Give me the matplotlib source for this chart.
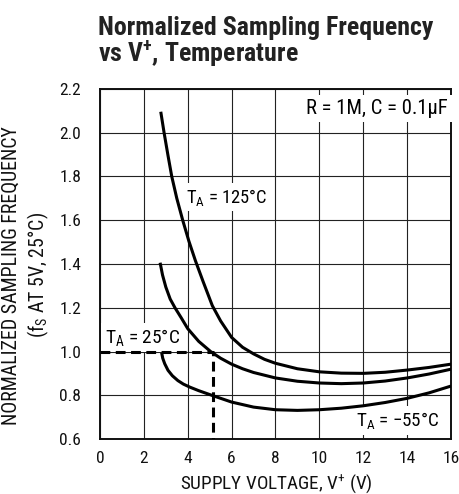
import matplotlib
matplotlib.use("Agg")
import matplotlib.pyplot as plt
from matplotlib import font_manager as fm

# pick a condensed family if one is installed
_names = {f.name for f in fm.fontManager.ttflist}
_cands = ['Liberation Sans Narrow', 'Roboto Condensed', 'DejaVu Sans Condensed',
          'Open Sans Condensed', 'Noto Sans Condensed', 'Arial Narrow']
_cond = [c for c in _cands if c in _names]
FAM = [_cond[0], 'DejaVu Sans'] if _cond else ['Roboto', 'DejaVu Sans']

plt.rcParams['font.family'] = FAM
plt.rcParams['mathtext.fontset'] = 'custom'
plt.rcParams['mathtext.rm'] = FAM[0]
plt.rcParams['mathtext.it'] = FAM[0]
plt.rcParams['mathtext.default'] = 'regular'

# ---- data ----
v_125 = [2.77, 2.92, 3.1, 3.27, 3.5, 3.77, 4.05, 4.35, 4.7, 5.12, 5.5, 6.0, 6.5, 7.0,
         7.5, 8.0, 9.0, 10.0, 11.0, 12.0, 13.0, 14.0, 15.0, 16.0]
f_125 = [2.095, 2.0, 1.895, 1.8, 1.70, 1.6, 1.505, 1.415, 1.32, 1.21, 1.14, 1.065, 1.02,
         0.99, 0.965, 0.947, 0.922, 0.908, 0.902, 0.901, 0.906, 0.916, 0.928, 0.943]

v_25 = [2.74, 2.85, 3.0, 3.2, 3.42, 3.7, 4.0, 4.5, 5.05, 5.5, 6.0, 6.5, 7.0, 8.0, 9.0,
        10.0, 11.0, 12.0, 13.0, 14.0, 15.0, 16.0]
f_25 = [1.406, 1.35, 1.295, 1.24, 1.2, 1.155, 1.105, 1.047, 1.0, 0.97, 0.943, 0.922,
        0.905, 0.88, 0.865, 0.857, 0.854, 0.857, 0.866, 0.88, 0.898, 0.92]

v_m55 = [2.81, 2.86, 2.95, 3.1, 3.3, 3.55, 3.8, 4.1, 4.5, 5.15, 6.0, 7.0, 8.0, 9.0, 10.0,
         11.0, 12.0, 13.0, 14.0, 15.0, 16.0]
f_m55 = [0.995, 0.97, 0.945, 0.915, 0.89, 0.868, 0.852, 0.838, 0.822, 0.799, 0.77, 0.747,
         0.735, 0.732, 0.735, 0.742, 0.753, 0.768, 0.787, 0.812, 0.843]

ref_v = [0.0, 5.15, 5.15]
ref_f = [1.0, 1.0, 0.6]

x_ticks = [0, 2, 4, 6, 8, 10, 12, 14, 16]
y_ticks = [0.6, 0.8, 1.0, 1.2, 1.4, 1.6, 1.8, 2.0, 2.2]
y_tick_labels = ['0.6', '0.8', '1.0', '1.2', '1.4', '1.6', '1.8', '2.0', '2.2']

fig = plt.figure(figsize=(4.6, 4.94), dpi=100)
ax = fig.add_axes([0.2174, 0.1107, 0.7630, 0.7097])

ax.set_xlim(0, 16)
ax.set_ylim(0.6, 2.2)
ax.set_xticks(x_ticks)
ax.set_yticks(y_ticks)
ax.set_yticklabels(y_tick_labels)
ax.tick_params(axis='both', length=0, labelsize=12.5, colors='#111111')
ax.tick_params(axis='x', pad=8.5)
ax.tick_params(axis='y', pad=13.5)
ax.grid(True, color='#222222', linewidth=0.8, zorder=1)
ax.set_axisbelow(True)
for s in ax.spines.values():
    s.set_linewidth(1.4)
    s.set_color('#111111')

lw = 2.2
ax.plot(v_125, f_125, color='black', lw=lw, zorder=4, solid_capstyle='butt')
ax.plot(v_25, f_25, color='black', lw=lw, zorder=4, solid_capstyle='butt')
ax.plot(v_m55, f_m55, color='black', lw=lw, zorder=4, solid_capstyle='butt')
ax.plot(ref_v, ref_f, color='black', lw=2.2, dashes=(3.2, 1.8), zorder=4)

box = dict(boxstyle='square,pad=0.2', facecolor='white', edgecolor='none')
fs = 13
t1 = ax.text(3.9, 1.705, 'T$_{A}$ = 125°C', fontsize=fs, ha='left', va='center', bbox=box, zorder=3)
t2 = ax.text(15.85, 2.11, 'R = 1M, C = 0.1µF', fontsize=fs, ha='right', va='center', bbox=box, zorder=3)
t3 = ax.text(0.22, 1.065, 'T$_{A}$ = 25°C', fontsize=fs, ha='left', va='center', bbox=box, zorder=3)
t4 = ax.text(11.65, 0.685, 'T$_{A}$ = \u221255°C', fontsize=fs, ha='left', va='center', bbox=box, zorder=3)

h1 = fig.text(98 / 460, 1 - 35 / 494, 'Normalized Sampling Frequency', fontsize=18,
              fontweight='bold', ha='left', va='baseline', color='#222222')
h2 = fig.text(98 / 460, 1 - 63 / 494, 'vs V$^{+}$, Temperature', fontsize=18,
              fontweight='bold', ha='left', va='baseline', color='#222222')

xl = fig.text(0.6015, 1 - 489 / 494, 'SUPPLY VOLTAGE, V$^{+}$ (V)', fontsize=13.5,
              ha='center', va='baseline', color='#111111')
yl = fig.text(0.058, 0.443, 'NORMALIZED SAMPLING FREQUENCY\n(f$_{S}$ AT 5V, 25°C)',
              fontsize=12.5, ha='center', va='center', rotation=90,
              multialignment='center', linespacing=1.25, color='#111111')

# scale font sizes so text lengths match the reference (in pixels)
fig.canvas.draw()
r = fig.canvas.get_renderer()


def fit(t, target, vertical=False):
    ext = t.get_window_extent(renderer=r)
    cur = ext.height if vertical else ext.width
    t.set_fontsize(t.get_fontsize() * target / cur)


fit(h1, 335)
h2.set_fontsize(h1.get_fontsize())
fit(xl, 193)
fit(yl, 300, vertical=True)
for t, w in ((t1, 81), (t2, 141), (t3, 75), (t4, 83)):
    t.set_bbox(None)
    fig.canvas.draw()
    fit(t, w)
    t.set_bbox(box)

fig.savefig('out.png', dpi=100)
